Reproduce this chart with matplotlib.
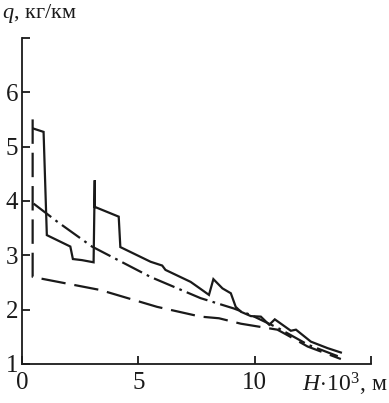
import matplotlib
matplotlib.use("Agg")
import matplotlib.pyplot as plt

plt.rcParams["font.family"] = ["Liberation Serif", "DejaVu Serif"]
plt.rcParams["mathtext.fontset"] = "custom"
plt.rcParams["mathtext.rm"] = "Liberation Serif"
plt.rcParams["mathtext.it"] = "Liberation Serif:italic"

# solid curve
h_solid = [0.49, 0.92, 1.06, 2.07, 2.18, 2.57, 3.07, 3.12, 3.12, 4.15, 4.22,
           5.52, 6.02, 6.16, 7.24, 7.67, 8.03, 8.22, 8.61, 8.97, 9.18, 9.4,
           9.83, 10.26, 10.62, 10.86, 11.55, 11.77, 12.41, 13.13, 13.7]
q_solid = [5.33, 5.27, 3.37, 3.16, 2.93, 2.91, 2.87, 4.38, 3.89, 3.71, 3.15,
           2.88, 2.81, 2.73, 2.51, 2.38, 2.27, 2.56, 2.39, 2.30, 2.05, 1.96,
           1.88, 1.87, 1.72, 1.82, 1.61, 1.63, 1.41, 1.29, 1.21]

# dash-dot curve
h_dashdot = [0.49, 1.5, 3.0, 5.52, 7.67, 9.1, 9.83, 11.0, 12.3, 13.7]
q_dashdot = [3.95, 3.62, 3.16, 2.6, 2.21, 2.02, 1.9, 1.66, 1.35, 1.12]

# dashed curve
h_dashed = [0.45, 0.45, 3.36, 5.8, 7.67, 8.46, 9.4, 10.97, 11.4, 12.27, 13.7]
q_dashed = [5.5, 2.6, 2.36, 2.05, 1.87, 1.84, 1.74, 1.63, 1.53, 1.32, 1.09]

x_ticks = [0, 5, 10, 15]
x_labels = ["0", "5", "10", ""]
y_ticks = [1, 2, 3, 4, 5, 6, 7]
y_labels = ["1", "2", "3", "4", "5", "6", ""]

fig = plt.figure(figsize=(3.89, 4.03), dpi=100)
ax = fig.add_axes([0.057, 0.097, 0.897, 0.809])

lw = 1.6
ax.plot(h_solid, q_solid, color="#1a1a1a", lw=lw, solid_joinstyle="miter")
ax.plot(h_dashdot, q_dashdot, color="#1a1a1a", lw=lw,
        dashes=(10.0, 2.4, 1.2, 2.4))
ax.plot(h_dashed, q_dashed, color="#1a1a1a", lw=lw, dashes=(11.0, 4.0))

ax.set_xlim(0, 15)
ax.set_ylim(1, 7)
ax.spines["top"].set_visible(False)
ax.spines["right"].set_visible(False)
for s in ("left", "bottom"):
    ax.spines[s].set_linewidth(1.3)
    ax.spines[s].set_color("#1a1a1a")

ax.set_xticks(x_ticks)
ax.set_xticklabels(x_labels)
ax.set_yticks(y_ticks)
ax.set_yticklabels(y_labels)
ax.tick_params(direction="in", length=6, width=1.3, labelsize=18,
               colors="#1a1a1a")
ax.tick_params(axis="x", pad=6)
ax.tick_params(axis="y", pad=3)

fig.text(0.005, 0.966, r"$q$, кг/км", fontsize=16, va="center", ha="left",
         color="#1a1a1a")
fig.text(0.998, 0.045, r"$H\!\cdot\!10^3$, м", fontsize=17, va="center",
         ha="right", color="#1a1a1a")

fig.savefig("out.png", dpi=100)
